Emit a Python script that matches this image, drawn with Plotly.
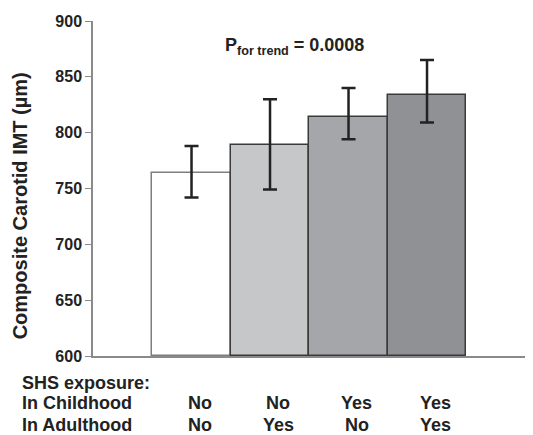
import plotly.graph_objects as go

categories = ["No/No", "No/Yes", "Yes/No", "Yes/Yes"]
means = [764, 789, 814, 834]
err_upper = [788, 830, 840, 865]
err_lower = [742, 749, 794, 809]
childhood = ["No", "No", "Yes", "Yes"]
adulthood = ["No", "Yes", "No", "Yes"]
fill_colors = ["#ffffff", "#c6c7c9", "#a5a6a9", "#909194"]
line_colors = ["#7f7f7f", "#3a3a3a", "#3a3a3a", "#3a3a3a"]
y_ticks = [600, 650, 700, 750, 800, 850, 900]

FONT = "Liberation Sans, Arial, sans-serif"
xs = list(range(len(categories)))

fig = go.Figure()
fig.add_trace(go.Bar(
    x=xs, y=[m - 600 for m in means], base=600,
    width=1,
    marker=dict(color=fill_colors, line=dict(color=line_colors, width=1.5)),
    error_y=dict(type="data", symmetric=False,
                 array=[u - m for u, m in zip(err_upper, means)],
                 arrayminus=[m - l for m, l in zip(means, err_lower)],
                 color="#222222", thickness=2.5, width=7),
    hoverinfo="skip",
))

fig.update_layout(
    width=525, height=427,
    margin=dict(l=85, r=0, t=13, b=79),
    plot_bgcolor="white", paper_bgcolor="white",
    showlegend=False, bargap=0,
    font=dict(family=FONT, color="#222222"),
    xaxis=dict(range=[-1.255, 4.35], showticklabels=False, ticks="",
               showgrid=False, zeroline=False, showline=True,
               linecolor="#8a8a8a", linewidth=2),
    yaxis=dict(range=[600, 900], tickvals=y_ticks,
               ticktext=["<b>%d</b>" % v for v in y_ticks],
               ticks="outside",
               ticklen=6, tickcolor="#8a8a8a", tickwidth=1,
               showgrid=False, zeroline=False, showline=True,
               linecolor="#8a8a8a", linewidth=1.5,
               tickfont=dict(size=16, family=FONT, color="#222222")),
)

# y-axis title (placed as annotation to match the reference's vertical offset)
fig.add_annotation(
    xref="paper", yref="paper", x=-0.165, y=0.448, textangle=-90,
    text="<b>Composite Carotid IMT (µm)</b>", showarrow=False,
    xanchor="center", yanchor="middle",
    font=dict(size=20, family=FONT, color="#222222"),
)

fig.add_annotation(
    xref="paper", yref="paper", x=0.459, y=0.964,
    text="<b>P<sub>for trend</sub> = 0.0008</b>", showarrow=False,
    font=dict(size=18, family=FONT, color="#222222"),
)

rows = [("SHS exposure:", -0.080), ("In Childhood", -0.141), ("In Adulthood", -0.207)]
for label, yy in rows:
    fig.add_annotation(xref="paper", yref="paper", x=-0.166, y=yy,
                       xanchor="left", yanchor="middle", showarrow=False,
                       text="<b>%s</b>" % label,
                       font=dict(size=18, family=FONT, color="#222222"))

for i, (c, a) in enumerate(zip(childhood, adulthood)):
    fig.add_annotation(xref="x", yref="paper", x=xs[i], y=-0.141, xshift=8,
                       showarrow=False, yanchor="middle", text="<b>%s</b>" % c,
                       font=dict(size=18, family=FONT, color="#222222"))
    fig.add_annotation(xref="x", yref="paper", x=xs[i], y=-0.207, xshift=8,
                       showarrow=False, yanchor="middle", text="<b>%s</b>" % a,
                       font=dict(size=18, family=FONT, color="#222222"))

fig.write_html("out.html")
